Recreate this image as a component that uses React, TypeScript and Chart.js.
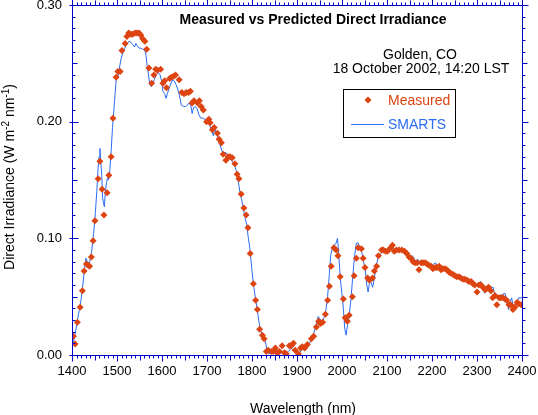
import React, { useEffect, useRef } from 'react'
import { Chart, registerables } from 'chart.js'

Chart.register(...registerables)

// measured direct irradiance (W m-2 nm-1)
const measuredWavelength = [
	1403, 1407, 1412, 1418, 1423, 1427, 1432, 1436, 1439, 1443, 1447, 1451, 1458, 1462, 1467, 1471,
	1478, 1482, 1487, 1491, 1498, 1502, 1507, 1511, 1518, 1522, 1526, 1531, 1535, 1540, 1544, 1549,
	1553, 1557, 1562, 1566, 1571, 1577, 1582, 1586, 1590, 1597, 1602, 1606, 1610, 1617, 1621, 1626,
	1630, 1638, 1644, 1649, 1654, 1659, 1663, 1667, 1671, 1679, 1683, 1687, 1692, 1699, 1704, 1707,
	1712, 1716, 1723, 1727, 1732, 1736, 1742, 1747, 1751, 1756, 1762, 1767, 1771, 1776, 1782, 1787,
	1791, 1796, 1803, 1808, 1812, 1817, 1823, 1827, 1832, 1836, 1843, 1847, 1852, 1856, 1861, 1867,
	1872, 1876, 1883, 1887, 1892, 1896, 1903, 1908, 1912, 1917, 1923, 1932, 1937, 1943, 1948, 1952,
	1957, 1963, 1968, 1972, 1976, 1982, 1987, 1991, 1996, 2003, 2007, 2012, 2016, 2023, 2027, 2032,
	2036, 2043, 2047, 2051, 2057, 2061, 2068, 2072, 2077, 2081, 2088, 2092, 2097, 2101, 2108, 2112,
	2116, 2121, 2127, 2133, 2139, 2144, 2149, 2153, 2158, 2162, 2167, 2171, 2176, 2180, 2185, 2189,
	2193, 2198, 2202, 2207, 2211, 2216, 2220, 2224, 2229, 2233, 2238, 2242, 2247, 2251, 2255, 2260,
	2264, 2269, 2273, 2278, 2282, 2287, 2291, 2295, 2300, 2304, 2309, 2313, 2318, 2322, 2326, 2331,
	2335, 2340, 2344, 2349, 2353, 2358, 2362, 2366, 2371, 2375, 2380, 2384, 2389, 2393, 2398,
]
const measuredIrradiance = [
	0.016, 0.0095, 0.028, 0.041, 0.055, 0.072, 0.078, 0.077, 0.076, 0.084, 0.098, 0.115, 0.151, 0.166, 0.142, 0.12,
	0.139, 0.154, 0.17, 0.203, 0.238, 0.243, 0.243, 0.261, 0.267, 0.273, 0.276, 0.275, 0.275, 0.276, 0.276, 0.276,
	0.274, 0.271, 0.269, 0.262, 0.246, 0.233, 0.24, 0.245, 0.244, 0.245, 0.233, 0.235, 0.229, 0.237, 0.238, 0.239,
	0.24, 0.236, 0.225, 0.224, 0.225, 0.225, 0.226, 0.216, 0.218, 0.216, 0.218, 0.213, 0.21, 0.2, 0.202, 0.199,
	0.193, 0.195, 0.19, 0.185, 0.182, 0.172, 0.167, 0.17, 0.17, 0.169, 0.164, 0.155, 0.151, 0.138, 0.126, 0.12,
	0.109, 0.087, 0.061, 0.047, 0.039, 0.022, 0.017, 0.014, 0.003, 0.004, 0.003, 0.003, 0.006, 0.002, 0.003, 0.008,
	0.002, 0.001, 0.008, 0.008, 0.01, 0.004, 0.001, 0.006, 0.007, 0.006, 0.009, 0.014, 0.016, 0.024, 0.029, 0.027,
	0.028, 0.035, 0.047, 0.059, 0.076, 0.092, 0.09, 0.085, 0.067, 0.048, 0.032, 0.029, 0.034, 0.05, 0.068, 0.083,
	0.092, 0.091, 0.083, 0.075, 0.066, 0.064, 0.066, 0.072, 0.076, 0.085, 0.09, 0.09, 0.089, 0.089, 0.092, 0.094,
	0.089, 0.09, 0.09, 0.09, 0.089, 0.087, 0.084, 0.083, 0.08, 0.079, 0.079, 0.073, 0.079, 0.079, 0.079, 0.078,
	0.077, 0.076, 0.074, 0.075, 0.075, 0.076, 0.073, 0.074, 0.074, 0.073, 0.071, 0.07, 0.069, 0.068, 0.067, 0.067,
	0.066, 0.065, 0.065, 0.064, 0.063, 0.063, 0.061, 0.06, 0.054, 0.06, 0.06, 0.058, 0.056, 0.057, 0.058, 0.055,
	0.049, 0.051, 0.043, 0.049, 0.049, 0.049, 0.048, 0.047, 0.043, 0.043, 0.039, 0.041, 0.045, 0.044, 0.043,
]

// SMARTS model
const smartsWavelength = [
	1400, 1404, 1408, 1412, 1416, 1420, 1424, 1428, 1431, 1434, 1437, 1440, 1444, 1448, 1452, 1455,
	1458, 1460, 1462, 1464, 1466, 1468, 1470, 1472, 1474, 1477, 1479, 1481, 1484, 1487, 1490, 1493,
	1496, 1499, 1502, 1505, 1508, 1512, 1516, 1520, 1524, 1527, 1531, 1535, 1539, 1542, 1545, 1549,
	1553, 1557, 1561, 1564, 1567, 1570, 1573, 1576, 1579, 1583, 1587, 1591, 1595, 1599, 1602, 1606,
	1609, 1612, 1616, 1620, 1624, 1627, 1631, 1635, 1639, 1643, 1648, 1652, 1656, 1660, 1664, 1667,
	1670, 1674, 1678, 1682, 1686, 1690, 1695, 1699, 1703, 1707, 1711, 1714, 1717, 1721, 1725, 1729,
	1733, 1737, 1740, 1743, 1747, 1751, 1756, 1761, 1765, 1769, 1773, 1777, 1781, 1785, 1788, 1792,
	1795, 1800, 1804, 1808, 1812, 1816, 1820, 1824, 1828, 1831, 1834, 1838, 1843, 1853, 1863, 1873,
	1881, 1887, 1893, 1898, 1906, 1912, 1918, 1924, 1930, 1936, 1942, 1947, 1951, 1956, 1960, 1964,
	1968, 1972, 1975, 1979, 1983, 1987, 1990, 1993, 1996, 2000, 2003, 2006, 2009, 2012, 2016, 2020,
	2024, 2028, 2032, 2036, 2040, 2044, 2048, 2052, 2055, 2058, 2062, 2065, 2068, 2072, 2076, 2080,
	2085, 2090, 2095, 2101, 2107, 2113, 2120, 2127, 2135, 2141, 2147, 2152, 2156, 2159, 2163, 2167,
	2171, 2176, 2181, 2187, 2193, 2198, 2204, 2208, 2213, 2219, 2224, 2231, 2237, 2243, 2249, 2255,
	2261, 2267, 2273, 2279, 2285, 2291, 2297, 2303, 2308, 2313, 2317, 2322, 2330, 2336, 2340, 2346,
	2352, 2357, 2362, 2366, 2370, 2374, 2377, 2381, 2385, 2389, 2393, 2396, 2400,
]
const smartsIrradiance = [
	0.009, 0.012, 0.02, 0.03, 0.038, 0.047, 0.06, 0.074, 0.083, 0.08, 0.075, 0.081, 0.09, 0.104, 0.122, 0.14,
	0.16, 0.17, 0.177, 0.165, 0.155, 0.135, 0.13, 0.127, 0.14, 0.148, 0.152, 0.15, 0.158, 0.175, 0.195, 0.21,
	0.225, 0.24, 0.238, 0.245, 0.252, 0.258, 0.262, 0.265, 0.268, 0.269, 0.268, 0.266, 0.264, 0.267, 0.265, 0.263,
	0.263, 0.262, 0.262, 0.258, 0.248, 0.24, 0.232, 0.23, 0.232, 0.236, 0.24, 0.242, 0.241, 0.235, 0.226, 0.224,
	0.22, 0.224, 0.229, 0.233, 0.236, 0.235, 0.232, 0.228, 0.222, 0.214, 0.213, 0.213, 0.214, 0.216, 0.214, 0.207,
	0.212, 0.213, 0.211, 0.206, 0.203, 0.203, 0.202, 0.201, 0.199, 0.196, 0.192, 0.188, 0.194, 0.19, 0.185, 0.18,
	0.175, 0.172, 0.174, 0.173, 0.17, 0.168, 0.166, 0.163, 0.158, 0.15, 0.14, 0.133, 0.125, 0.117, 0.112, 0.1,
	0.092, 0.072, 0.058, 0.048, 0.038, 0.027, 0.02, 0.017, 0.014, 0.009, 0.003, 0.001, 0.002, 0.001, 0.002, 0.001,
	0.003, 0.006, 0.004, 0.001, 0.002, 0.005, 0.004, 0.007, 0.012, 0.017, 0.025, 0.033, 0.031, 0.027, 0.032, 0.038,
	0.05, 0.07, 0.086, 0.092, 0.094, 0.096, 0.1, 0.085, 0.066, 0.052, 0.04, 0.023, 0.017, 0.025, 0.034, 0.048,
	0.068, 0.085, 0.096, 0.096, 0.092, 0.088, 0.08, 0.072, 0.06, 0.054, 0.064, 0.062, 0.058, 0.066, 0.076, 0.083,
	0.086, 0.089, 0.088, 0.089, 0.091, 0.091, 0.09, 0.09, 0.089, 0.089, 0.087, 0.084, 0.085, 0.084, 0.079, 0.082,
	0.081, 0.079, 0.08, 0.078, 0.077, 0.076, 0.078, 0.079, 0.076, 0.075, 0.074, 0.073, 0.071, 0.07, 0.068, 0.067,
	0.066, 0.065, 0.065, 0.064, 0.062, 0.061, 0.059, 0.061, 0.063, 0.058, 0.053, 0.058, 0.058, 0.058, 0.05, 0.05,
	0.051, 0.052, 0.053, 0.048, 0.039, 0.046, 0.049, 0.04, 0.042, 0.046, 0.049, 0.049, 0.049,
]

const xTickValues = [1400, 1500, 1600, 1700, 1800, 1900, 2000, 2100, 2200, 2300, 2400]
const yTickValues = [0, 0.1, 0.2, 0.3]

const AXIS = '#0000C8'
const RED = '#DD4411'
const BLUE = '#2B6CF6'
const FONT = "'Liberation Sans', Arial, sans-serif"

// frame, ticks on all four sides and the text that sits inside the plot
const decorations = {
	id: 'decorations',
	afterDatasetsDraw(chart: any) {
		const { ctx, chartArea: a, scales } = chart
		const xs = scales.x
		const ys = scales.y
		const L = Math.round(a.left) + 0.5
		const R = Math.round(a.right) + 0.5
		const T = Math.round(a.top) + 0.5
		const B = Math.round(a.bottom) + 0.5
		ctx.save()
		ctx.strokeStyle = AXIS
		ctx.lineWidth = 1
		ctx.beginPath()
		ctx.rect(L, T, R - L, B - T)
		for (let i = 0; i <= 100; i++) {
			const px = Math.round(xs.getPixelForValue(1400 + i * 10)) + 0.5
			const len = i % 10 === 0 ? 6 : i % 5 === 0 ? 5 : 3
			ctx.moveTo(px, B)
			ctx.lineTo(px, B + len)
			ctx.moveTo(px, T)
			ctx.lineTo(px, T - len)
		}
		for (let i = 0; i <= 30; i++) {
			const py = Math.round(ys.getPixelForValue(i / 100)) + 0.5
			const len = i % 10 === 0 ? 6 : i % 5 === 0 ? 5 : 3
			ctx.moveTo(L, py)
			ctx.lineTo(L + len, py)
			if (i % 10 === 0) {
				ctx.moveTo(L - 3, py)
				ctx.lineTo(L, py)
			}
			ctx.moveTo(R, py)
			ctx.lineTo(R + len, py)
		}
		ctx.stroke()

		ctx.fillStyle = '#000'
		ctx.textBaseline = 'alphabetic'
		ctx.textAlign = 'center'
		ctx.font = `bold 14px ${FONT}`
		ctx.fillText('Measured vs Predicted Direct Irradiance', 313, 24)
		ctx.font = `14px ${FONT}`
		ctx.fillText('Golden, CO', 420, 59)
		ctx.fillText('18 October 2002, 14:20 LST', 421, 73)
		ctx.fillText('Wavelength (nm)', 303, 413)

		// legend
		ctx.strokeStyle = '#000'
		ctx.strokeRect(343.5, 89.5, 112, 48)
		ctx.fillStyle = RED
		ctx.beginPath()
		ctx.moveTo(368, 96.5)
		ctx.lineTo(371.5, 100)
		ctx.lineTo(368, 103.5)
		ctx.lineTo(364.5, 100)
		ctx.closePath()
		ctx.fill()
		ctx.strokeStyle = BLUE
		ctx.beginPath()
		ctx.moveTo(351, 124.5)
		ctx.lineTo(384, 124.5)
		ctx.stroke()
		ctx.textAlign = 'left'
		ctx.fillStyle = RED
		ctx.fillText('Measured', 388, 105)
		ctx.fillStyle = BLUE
		ctx.fillText('SMARTS', 388, 129)

		// y axis title with superscripts
		ctx.fillStyle = '#000'
		const parts: [string, boolean][] = [
			['Direct Irradiance (W m', false],
			['-2', true],
			[' nm', false],
			['-1', true],
			[')', false],
		]
		const sized = parts.map(([t, sup]) => {
			ctx.font = `${sup ? 10 : 14}px ${FONT}`
			return { t, sup, w: ctx.measureText(t).width }
		})
		const total = sized.reduce((s, p) => s + p.w, 0)
		ctx.translate(14, 177)
		ctx.rotate(-Math.PI / 2)
		let pos = -total / 2
		for (const p of sized) {
			ctx.font = `${p.sup ? 10 : 14}px ${FONT}`
			ctx.fillText(p.t, pos, p.sup ? -5 : 0)
			pos += p.w
		}
		ctx.restore()
	},
}

const App: React.FC = () => {
	const chartRef = useRef<HTMLCanvasElement>(null)

	useEffect(() => {
		if (!chartRef.current) return
		Chart.defaults.font.family = FONT
		Chart.defaults.color = '#000'

		const chart = new Chart(chartRef.current, {
			type: 'line',
			data: {
				datasets: [
					{
						label: 'Measured',
						data: measuredWavelength.map((x, i) => ({ x, y: measuredIrradiance[i] })),
						showLine: false,
						pointStyle: 'rectRot',
						pointRadius: 3.5,
						pointBorderWidth: 0,
						pointBackgroundColor: RED,
						borderColor: RED,
					},
					{
						label: 'SMARTS',
						data: smartsWavelength.map((x, i) => ({ x, y: smartsIrradiance[i] })),
						borderColor: BLUE,
						borderWidth: 1,
						pointRadius: 0,
						tension: 0,
					},
				],
			},
			options: {
				responsive: false,
				animation: false,
				events: [],
				layout: { padding: { top: 5, right: 16, left: 0, bottom: 0 } },
				plugins: {
					legend: { display: false },
					title: { display: false },
					tooltip: { enabled: false },
				},
				scales: {
					x: {
						type: 'linear',
						min: 1400,
						max: 2400,
						grid: { display: false, drawTicks: false },
						border: { display: false },
						afterBuildTicks: (s: any) => {
							s.ticks = xTickValues.map((value) => ({ value }))
						},
						afterFit: (s: any) => {
							s.height = 60
							s.paddingLeft = 0
							s.paddingRight = 0
						},
						ticks: {
							padding: 9,
							font: { size: 13 },
							maxRotation: 0,
							autoSkip: false,
							callback: (v: any) => String(v),
						},
					},
					y: {
						type: 'linear',
						min: 0,
						max: 0.3,
						grid: { display: false, drawTicks: false },
						border: { display: false },
						afterBuildTicks: (s: any) => {
							s.ticks = yTickValues.map((value) => ({ value }))
						},
						afterFit: (s: any) => {
							s.width = 72
							s.paddingTop = 0
							s.paddingBottom = 0
						},
						ticks: {
							padding: 10,
							font: { size: 13 },
							callback: (v: any) => Number(v).toFixed(2),
						},
					},
				},
			},
			plugins: [decorations],
		})

		return () => {
			chart.destroy()
		}
	}, [])

	return (
		<div style={{ position: 'absolute', left: 0, top: 0, width: 538, height: 415, background: '#fff' }}>
			<canvas ref={chartRef} width={538} height={415} />
		</div>
	)
}

export default App
